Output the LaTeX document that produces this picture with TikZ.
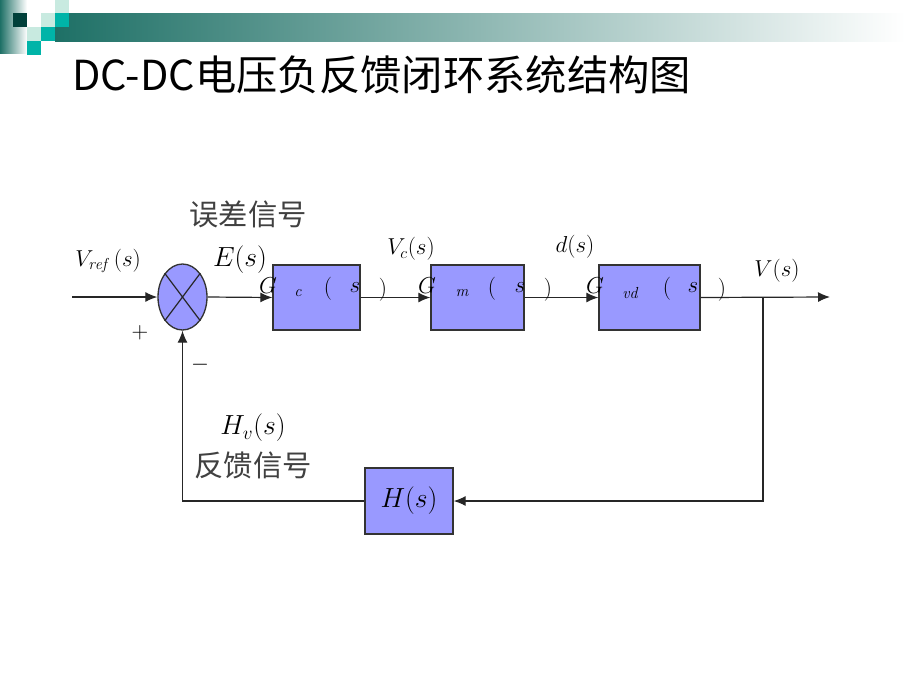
\documentclass[tikz,border=0pt]{standalone}
\usepackage{amsmath}
\usepackage{fontspec}
\newfontfamily\cjk{Noto Sans CJK SC}
\usetikzlibrary{arrows.meta,shapes.geometric,positioning}

\definecolor{blkfill}{RGB}{153,153,255}
\definecolor{tealdk}{RGB}{0,64,58}
\definecolor{tealmd}{RGB}{0,180,168}
\definecolor{tealmint}{RGB}{200,234,224}
\definecolor{tealbar}{RGB}{30,112,102}
\definecolor{tealmid}{RGB}{177,196,191}

\begin{document}
\begin{tikzpicture}[x=0.75pt,y=-0.75pt,
    blk/.style={draw=black!80,fill=blkfill,line width=1pt,minimum height=48.75pt,inner sep=0pt},
    sumj/.style={ellipse,draw=black!80,fill=blkfill,line width=1pt,
      minimum width=36.75pt,minimum height=49.5pt,inner sep=0pt},
    arr/.style={-{Latex[length=9pt,width=7.5pt]},line width=0.9pt,draw=black!85},
    cn/.style={font=\cjk\fontsize{22}{24}\selectfont,text=black!75,inner sep=0pt},
    mth/.style={font=\fontsize{22}{24}\selectfont,inner sep=0pt},
    mdl/.style={font=\fontsize{17}{19}\selectfont,inner sep=0pt},
    gtxt/.style={font=\fontsize{16}{18}\selectfont,inner sep=0pt},
    stxt/.style={font=\fontsize{12}{13}\selectfont,inner sep=0pt}]
 \useasboundingbox (0,0) rectangle (920,690);
 % header band
 \shade[left color=tealbar,right color=white] (0,0) rectangle (27,53);
 \shade[left color=tealbar,middle color=tealmid,right color=white] (55,13) rectangle (905,41);
 \fill[tealdk] (13,13) rectangle +(14,14);
 \fill[tealmint] (55,0) rectangle +(14,13);
 \fill[tealmint] (41,13) rectangle +(14,14);
 \fill[tealmd] (55,13) rectangle +(14,14);
 \fill[tealmint] (27,27) rectangle +(14,14);
 \fill[tealmd] (41,27) rectangle +(14,14);
 \fill[tealmd] (27,41) rectangle +(14,14);
 \node[anchor=west,inner sep=0pt,font=\cjk\fontsize{31}{33}\selectfont] (TITLE) at (72,75)
  {DC-DC电压负反馈闭环系统结构图};

 % blocks
 \node[sumj] (SUM) at (182.5,297) {};
 \draw[line width=0.9pt,black!85] (SUM.north west) -- (SUM.south east)
  (SUM.north east) -- (SUM.south west);
 \node[blk,minimum width=65.25pt] (GC) at (316.5,297.5) {};
 \node[blk,minimum width=69.75pt] (GM) at (477.5,297.5) {};
 \node[blk,minimum width=75.75pt] (GVD) at (649.5,297.5) {};
 \node[blk,minimum width=66pt,minimum height=49.5pt,font=\fontsize{22}{24}\selectfont] (HS)
  at (409,501) {$H(s)$};

 % connectors
 \coordinate (IN) at (72,297);
 \coordinate (OUT) at (830,297);
 \coordinate (BR) at (763,297);
 \draw[arr] (IN) -- (SUM.west);
 \draw[arr] (SUM.east) -- (GC.west);
 \draw[arr] (GC.east) -- (GM.west);
 \draw[arr] (GM.east) -- (GVD.west);
 \draw[arr] (GVD.east) -- (OUT);
 \draw[arr] (BR) |- (HS.east);
 \draw[arr] (HS.west) -| (SUM.south);

 % labels
 \node[mdl,anchor=west] (VREF) at (75,261) {$V_{\mathit{ref}}\;(s)$};
 \node[gtxt] (PLUS) at (140,333) {$+$};
 \node[gtxt] (MINUS) at (200,365) {$-$};
 \node[cn] (ERRTXT) at (248,214) {误差信号};
 \node[mth] (ES) at (240,260) {$E(s)$};
 \node[mdl] (VC) at (411,249) {$V_c(s)$};
 \node[mdl] (DS) at (575,247) {$d(s)$};
 \node[mdl] (VS) at (777,271) {$V(s)$};
 \node[mth] (HV) at (253,428) {$H_v(s)$};
 \node[cn] (FBTXT) at (253,465) {反馈信号};
 \foreach \gx/\sx/\sub/\px/\qx/\rx in
   {268/298/c/328/355/383, 427/462/m/492/520/548, 595/630/vd/667/693/722} {
  \node[gtxt] (G-\sub) at (\gx,286) {$G$};
  \node[stxt] (SUB-\sub) at (\sx,293) {$\mathit{\sub}$};
  \node[gtxt] (LP-\sub) at (\px,289) {$($};
  \node[gtxt] (S-\sub) at (\qx,288) {$s$};
  \node[gtxt] (RP-\sub) at (\rx,290) {$)$};
 }
\end{tikzpicture}
\end{document}
